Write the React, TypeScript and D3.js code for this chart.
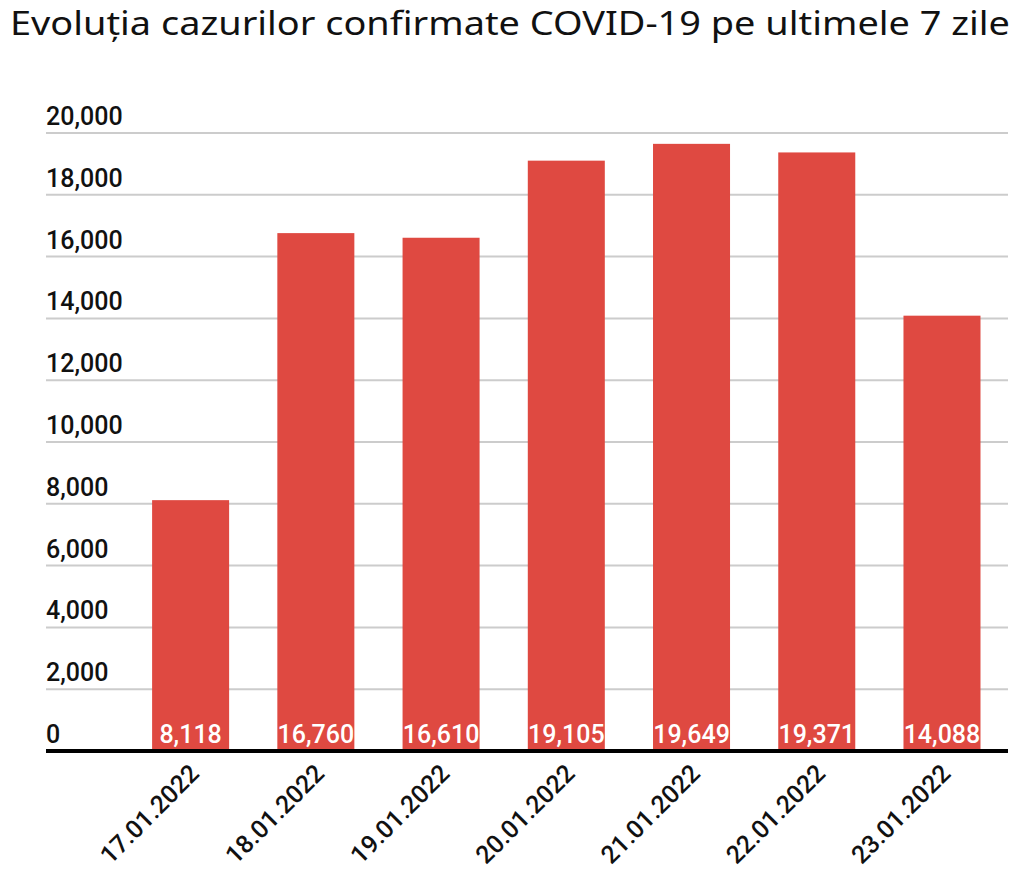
import React from "react";
import * as d3 from "d3";

const title = "Evoluția cazurilor confirmate COVID-19 pe ultimele 7 zile";
const categories = ["17.01.2022", "18.01.2022", "19.01.2022", "20.01.2022", "21.01.2022", "22.01.2022", "23.01.2022"];
const values = [8118, 16760, 16610, 19105, 19649, 19371, 14088];
const yTicks = [0, 2000, 4000, 6000, 8000, 10000, 12000, 14000, 16000, 18000, 20000];

const W = 1024;
const H = 877;
const FONT = "Roboto, 'Noto Sans', sans-serif";

export default function App() {
  const y = d3.scaleLinear().domain([0, 20000]).range([751, 133]);
  const x = d3
    .scaleBand<string>()
    .domain(categories)
    .range([128, 1004.6])
    .paddingInner(0.385)
    .paddingOuter(0.1925);
  const fmt = d3.format(",");
  const gridLeft = 46;
  const gridRight = 1008;

  return (
    <svg
      width={W}
      height={H}
      style={{ position: "absolute", left: 0, top: 0, background: "#fff" }}
      fontFamily={FONT}
    >
      <rect x={0} y={0} width={W} height={H} fill="#fff" />
      <text x={10} y={35} fontSize={32} fill="#111" fontFamily="'Noto Sans', 'Open Sans', sans-serif" textLength={1000} lengthAdjust="spacingAndGlyphs">
        {title}
      </text>
      {yTicks.map((t) => (
        <g key={t}>
          {t !== 0 && (
            <line x1={gridLeft} x2={gridRight} y1={y(t)} y2={y(t)} stroke="#cccccc" strokeWidth={2} />
          )}
          <text x={gridLeft} y={y(t) - 8} fontSize={25} fontWeight={500} fill="#111">
            {fmt(t)}
          </text>
        </g>
      ))}
      {categories.map((c, i) => (
        <g key={c}>
          <rect
            x={x(c)!}
            y={y(values[i])}
            width={x.bandwidth()}
            height={y(0) - y(values[i])}
            fill="#df4941"
          />
          <text
            x={x(c)! + x.bandwidth() / 2}
            y={743}
            fontSize={25}
            fontWeight={500}
            fill="#fff"
            textAnchor="middle"
          >
            {fmt(values[i])}
          </text>
          <text
            transform={`translate(${x(c)! + x.bandwidth() / 2 + 10},${775}) rotate(-45)`}
            fontSize={25}
            fontWeight={500}
            fill="#111"
            textAnchor="end"
          >
            {c}
          </text>
        </g>
      ))}
      <line x1={gridLeft} x2={gridRight} y1={y(0)} y2={y(0)} stroke="#000" strokeWidth={4} />
    </svg>
  );
}
